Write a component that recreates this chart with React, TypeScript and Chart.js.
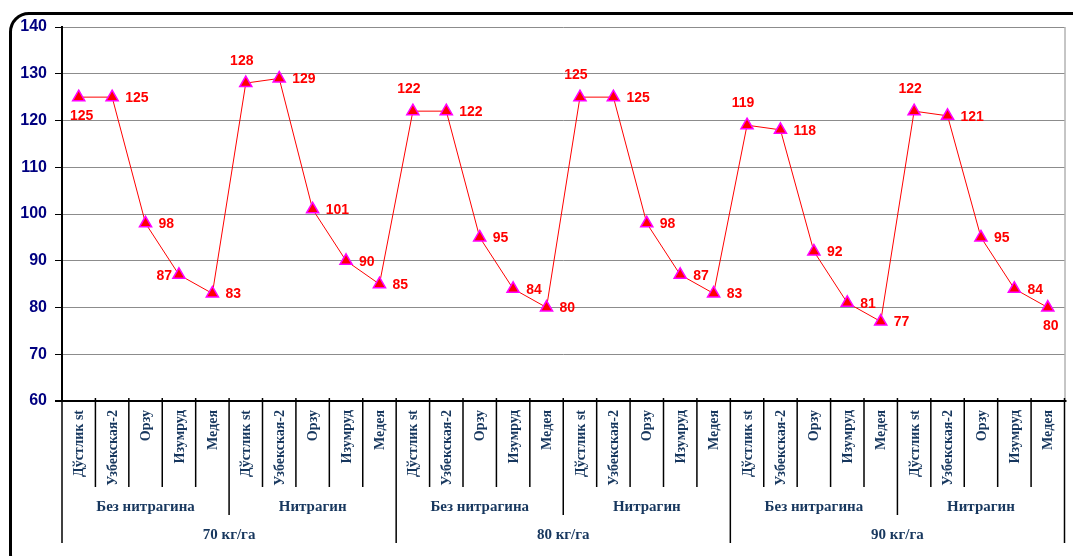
import React, { useEffect, useRef } from "react";
import { Chart, registerables } from "chart.js";

Chart.register(...registerables);

// Varieties, inoculation treatments and nitrogen rates (three-level x axis)
const varieties = ["Дўстлик st", "Узбекская-2", "Орзу", "Изумруд", "Медея"];
const treatments = ["Без нитрагина", "Нитрагин"];
const rates = ["70 кг/га", "80 кг/га", "90 кг/га"];

// One value per variety, in rate → treatment → variety order
const yields = [
  125, 125, 98, 87, 83,
  128, 129, 101, 90, 85,
  122, 122, 95, 84, 80,
  125, 125, 98, 87, 83,
  119, 118, 92, 81, 77,
  122, 121, 95, 84, 80,
];

// Where each value label sits relative to its marker
const labelSides = [
  "below", "right", "right", "left", "right",
  "above", "right", "right", "right", "right",
  "above", "right", "right", "right", "right",
  "above", "right", "right", "right", "right",
  "above", "right", "right", "right", "right",
  "above", "right", "right", "right", "below",
];

const yMin = 60;
const yMax = 140;
const yStep = 10;

const categories: string[] = [];
rates.forEach(() => treatments.forEach(() => varieties.forEach((v) => categories.push(v))));

const SANS = '"Liberation Sans", Arial, sans-serif';
const SERIF = '"Liberation Serif", "Times New Roman", serif';
const AXIS_TEXT = "#17375E";

const valueLabelPlugin = {
  id: "valueLabels",
  afterDatasetsDraw(chart: any) {
    const { ctx } = chart;
    const meta = chart.getDatasetMeta(0);
    ctx.save();
    ctx.font = `bold 14px ${SANS}`;
    ctx.fillStyle = "#FF0000";
    ctx.textBaseline = "middle";
    meta.data.forEach((pt: any, i: number) => {
      const text = String(yields[i]);
      const side = labelSides[i];
      if (side === "right") {
        ctx.textAlign = "left";
        ctx.fillText(text, pt.x + 13, pt.y + 1);
      } else if (side === "left") {
        ctx.textAlign = "right";
        ctx.fillText(text, pt.x - 7, pt.y + 1);
      } else if (side === "below") {
        ctx.textAlign = "center";
        ctx.fillText(text, pt.x + 3, pt.y + 19);
      } else {
        ctx.textAlign = "center";
        ctx.fillText(text, pt.x - 4, pt.y - 22);
      }
    });
    ctx.restore();
  },
};

const groupAxisPlugin = {
  id: "groupAxis",
  afterDraw(chart: any) {
    const { ctx, chartArea: a, scales } = chart;
    const xs = scales.x;
    const n = categories.length;
    const half = (xs.getPixelForValue(1) - xs.getPixelForValue(0)) / 2;
    const edge = (k: number) => (k === n ? xs.getPixelForValue(n - 1) + half : xs.getPixelForValue(k) - half);

    ctx.save();
    // right border of the plot area
    ctx.strokeStyle = "#8c8c8c";
    ctx.lineWidth = 1;
    ctx.beginPath();
    ctx.moveTo(a.right + 0.5, a.top);
    ctx.lineTo(a.right + 0.5, a.bottom);
    ctx.stroke();

    // separators below the axis
    ctx.strokeStyle = "#000";
    ctx.lineWidth = 1.5;
    const perTreatment = varieties.length;
    const perRate = varieties.length * treatments.length;
    for (let k = 0; k <= n; k++) {
      const x = edge(k);
      let end = 487;
      if (k % perRate === 0) end = 543;
      else if (k % perTreatment === 0) end = 515;
      ctx.beginPath();
      ctx.moveTo(x, a.bottom - 3);
      ctx.lineTo(x, end);
      ctx.stroke();
    }

    // x axis line
    ctx.lineWidth = 2;
    ctx.beginPath();
    ctx.moveTo(a.left - 7, a.bottom);
    ctx.lineTo(a.right + 2, a.bottom);
    ctx.stroke();

    // variety names, rotated
    ctx.fillStyle = AXIS_TEXT;
    ctx.font = `bold 14px ${SERIF}`;
    ctx.textAlign = "right";
    ctx.textBaseline = "middle";
    categories.forEach((c, i) => {
      const x = xs.getPixelForValue(i);
      ctx.save();
      ctx.translate(x + 1, a.bottom + 9);
      ctx.rotate(-Math.PI / 2);
      ctx.fillText(c, 0, 0);
      ctx.restore();
    });

    // treatment and rate labels
    ctx.font = `bold 15px ${SERIF}`;
    ctx.textAlign = "center";
    let t = 0;
    rates.forEach((r, ri) => {
      treatments.forEach((tr) => {
        const x0 = edge(t * perTreatment);
        const x1 = edge((t + 1) * perTreatment);
        ctx.fillText(tr, (x0 + x1) / 2, 507);
        t++;
      });
      const r0 = edge(ri * perRate);
      const r1 = edge((ri + 1) * perRate);
      ctx.fillText(r, (r0 + r1) / 2, 535);
    });
    ctx.restore();
  },
};

export default function App() {
  const ref = useRef<HTMLCanvasElement>(null);

  useEffect(() => {
    const chart = new Chart(ref.current as HTMLCanvasElement, {
      type: "line",
      data: {
        labels: categories,
        datasets: [
          {
            data: yields,
            borderColor: "#FF0000",
            borderWidth: 1,
            tension: 0,
            pointStyle: "triangle",
            pointRadius: 7,
            pointBackgroundColor: "#FF0000",
            pointBorderColor: "#FF00FF",
            pointBorderWidth: 1.5,
            fill: false,
          },
        ],
      },
      options: {
        animation: false,
        responsive: false,
        devicePixelRatio: 1,
        layout: { padding: { top: 27, right: 7, bottom: 155, left: 0 } },
        plugins: { legend: { display: false }, tooltip: { enabled: false } },
        scales: {
          x: {
            type: "category",
            offset: true,
            display: false,
          },
          y: {
            min: yMin,
            max: yMax,
            afterFit: (scale: any) => {
              scale.width = 62;
            },
            ticks: {
              stepSize: yStep,
              padding: 8,
              color: "#000080",
              font: { family: SANS, size: 16, weight: "bold" },
            },
            grid: {
              color: "#8c8c8c",
              lineWidth: 1,
              tickColor: "#000",
              tickLength: 7,
            },
            border: { display: true, color: "#000", width: 2 },
          },
        },
      },
      plugins: [valueLabelPlugin, groupAxisPlugin],
    } as any);
    return () => chart.destroy();
  }, []);

  return (
    <div
      style={{
        position: "fixed",
        left: 0,
        top: 0,
        width: 1073,
        height: 556,
        overflow: "hidden",
        background: "#fff",
      }}
    >
      <div
        style={{
          position: "absolute",
          left: 9,
          top: 12,
          width: 1090,
          height: 562,
          border: "3px solid #000",
          borderRadius: 20,
          boxSizing: "border-box",
        }}
      />
      <canvas
        ref={ref}
        width={1073}
        height={556}
        style={{ position: "absolute", left: 0, top: 0, width: 1073, height: 556 }}
      />
    </div>
  );
}
